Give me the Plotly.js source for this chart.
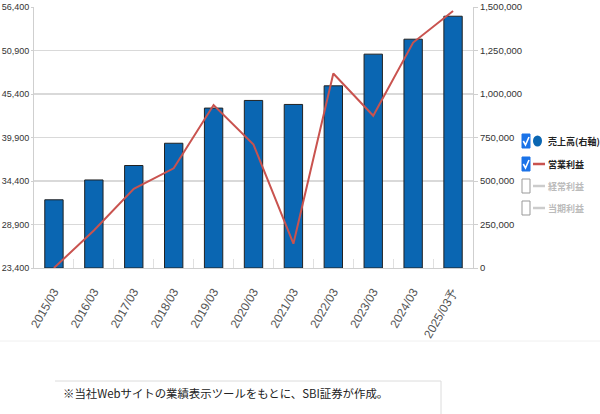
<!DOCTYPE html>
<html>
<head>
<meta charset="utf-8">
<script src="https://cdn.plot.ly/plotly-3.0.1.min.js"></script>
<style>html,body{margin:0;padding:0;background:#fff;}#chart{width:600px;height:414px;}</style>
</head>
<body>
<div id="chart"></div>
<script>
// ---- data ----
const categories = ["2015/03","2016/03","2017/03","2018/03","2019/03","2020/03","2021/03","2022/03","2023/03","2024/03","2025/03予"];
const salesValues = [392000, 506000, 589000, 717000, 919000, 963000, 940000, 1047000, 1229000, 1315000, 1447000]; // 売上高(右軸)
const opProfitValues = [23400, 28150, 33400, 36000, 44000, 39000, 26470, 48000, 42650, 51900, 55900]; // 営業利益
const legendLabels = ["売上高(右軸)", "営業利益", "経常利益", "当期利益"];
const footnote = "※当社Webサイトの業績表示ツールをもとに、SBI証券が作成。";

// ---- layout helpers (pixel -> paper) ----
const L = 34, R = 473, T = 7, B = 268;
const px = x => (x - L) / (R - L);
const py = y => (B - y) / (B - T);

const traces = [
  {
    type: "bar", x: categories, y: salesValues, yaxis: "y",
    marker: {color: "#0a66b2", line: {color: "#222", width: 1}},
    hoverinfo: "skip", showlegend: false
  },
  {
    type: "scatter", mode: "lines", x: categories, y: opProfitValues, yaxis: "y2",
    line: {color: "#c9534f", width: 2},
    hoverinfo: "skip", showlegend: false
  }
];

const shapes = [];
const annotations = [];
const rows = [141, 164, 186, 208];
const rowColors = ["#222", "#222", "#bbb", "#bbb"];
rows.forEach((yc, i) => {
  const checked = i < 2;
  shapes.push({type: "rect", xref: "paper", yref: "paper",
    x0: px(522), x1: px(530), y0: py(yc - 7), y1: py(yc + 7),
    fillcolor: checked ? "#1a73e8" : "#fff",
    line: {color: checked ? "#1a73e8" : "#999", width: 1}});
  if (checked) {
    shapes.push({type: "path", xref: "paper", yref: "paper",
      path: `M ${px(523.3)} ${py(yc)} L ${px(525.5)} ${py(yc + 4)} L ${px(529)} ${py(yc - 4)}`,
      line: {color: "#fff", width: 1.6}});
  }
  if (i === 0) {
    shapes.push({type: "circle", xref: "paper", yref: "paper",
      x0: px(533), x1: px(542), y0: py(yc + 5.5), y1: py(yc - 5.5),
      fillcolor: "#0a66b2", line: {color: "#0a66b2", width: 0}});
  } else {
    shapes.push({type: "line", xref: "paper", yref: "paper",
      x0: px(533), x1: px(545), y0: py(yc), y1: py(yc),
      line: {color: i === 1 ? "#c9534f" : "#ccc", width: 2.5}});
  }
  annotations.push({xref: "paper", yref: "paper", x: px(546), y: py(yc),
    xanchor: "left", yanchor: "middle", showarrow: false, text: legendLabels[i],
    font: {family: "Noto Sans CJK JP", size: 9, color: rowColors[i], weight: 700}});
});

// faint separator & footnote box
shapes.push({type: "line", xref: "paper", yref: "paper", x0: px(0), x1: px(600), y0: py(341), y1: py(341), line: {color: "#f0f0f0", width: 1}});
shapes.push({type: "line", xref: "paper", yref: "paper", x0: px(55), x1: px(441), y0: py(381), y1: py(381), line: {color: "#dcdcdc", width: 1}});
shapes.push({type: "line", xref: "paper", yref: "paper", x0: px(441), x1: px(441), y0: py(381), y1: py(414), line: {color: "#dcdcdc", width: 1}});
annotations.push({xref: "paper", yref: "paper", x: px(61), y: py(393), xanchor: "left", yanchor: "middle",
  showarrow: false, text: footnote, font: {family: "Noto Sans CJK JP", size: 11.4, color: "#222"}});

const axisFont = "Liberation Sans, Arial, sans-serif";

const layout = {
  width: 600, height: 414,
  margin: {l: L, r: 600 - R, t: T, b: 414 - B, pad: 0},
  paper_bgcolor: "#fff", plot_bgcolor: "#fff",
  bargap: 0.54,
  font: {family: axisFont, size: 10, color: "#333"},
  xaxis: {
    type: "category", tickangle: -60, ticks: "inside", tickson: "boundaries", ticklen: 9,
    tickcolor: "#e0e0e0", showline: true, linecolor: "#cfcfcf", linewidth: 1,
    showgrid: false, tickfont: {family: axisFont, size: 12, color: "#555"},
    ticklabelstandoff: 11, fixedrange: true
  },
  yaxis: {
    side: "right", range: [0, 1500000], tick0: 0, dtick: 250000, tickformat: ",d",
    showgrid: true, gridcolor: "#d9d9d9", gridwidth: 1.2, zeroline: false,
    showline: true, linecolor: "#cfcfcf", ticks: "outside", ticklen: 4, tickcolor: "#cfcfcf",
    tickfont: {family: axisFont, size: 9.5, color: "#333"}, fixedrange: true
  },
  yaxis2: {
    overlaying: "y", side: "left", range: [23400, 56400], tick0: 23400, dtick: 5500, tickformat: ",d",
    showgrid: false, zeroline: false, showline: true, linecolor: "#cfcfcf",
    ticks: "outside", ticklen: 2, tickcolor: "#cfcfcf",
    tickfont: {family: axisFont, size: 9, color: "#333"}, fixedrange: true
  },
  shapes: shapes,
  annotations: annotations,
  showlegend: false
};

Plotly.newPlot("chart", traces, layout, {displayModeBar: false, staticPlot: true});
</script>
</body>
</html>
